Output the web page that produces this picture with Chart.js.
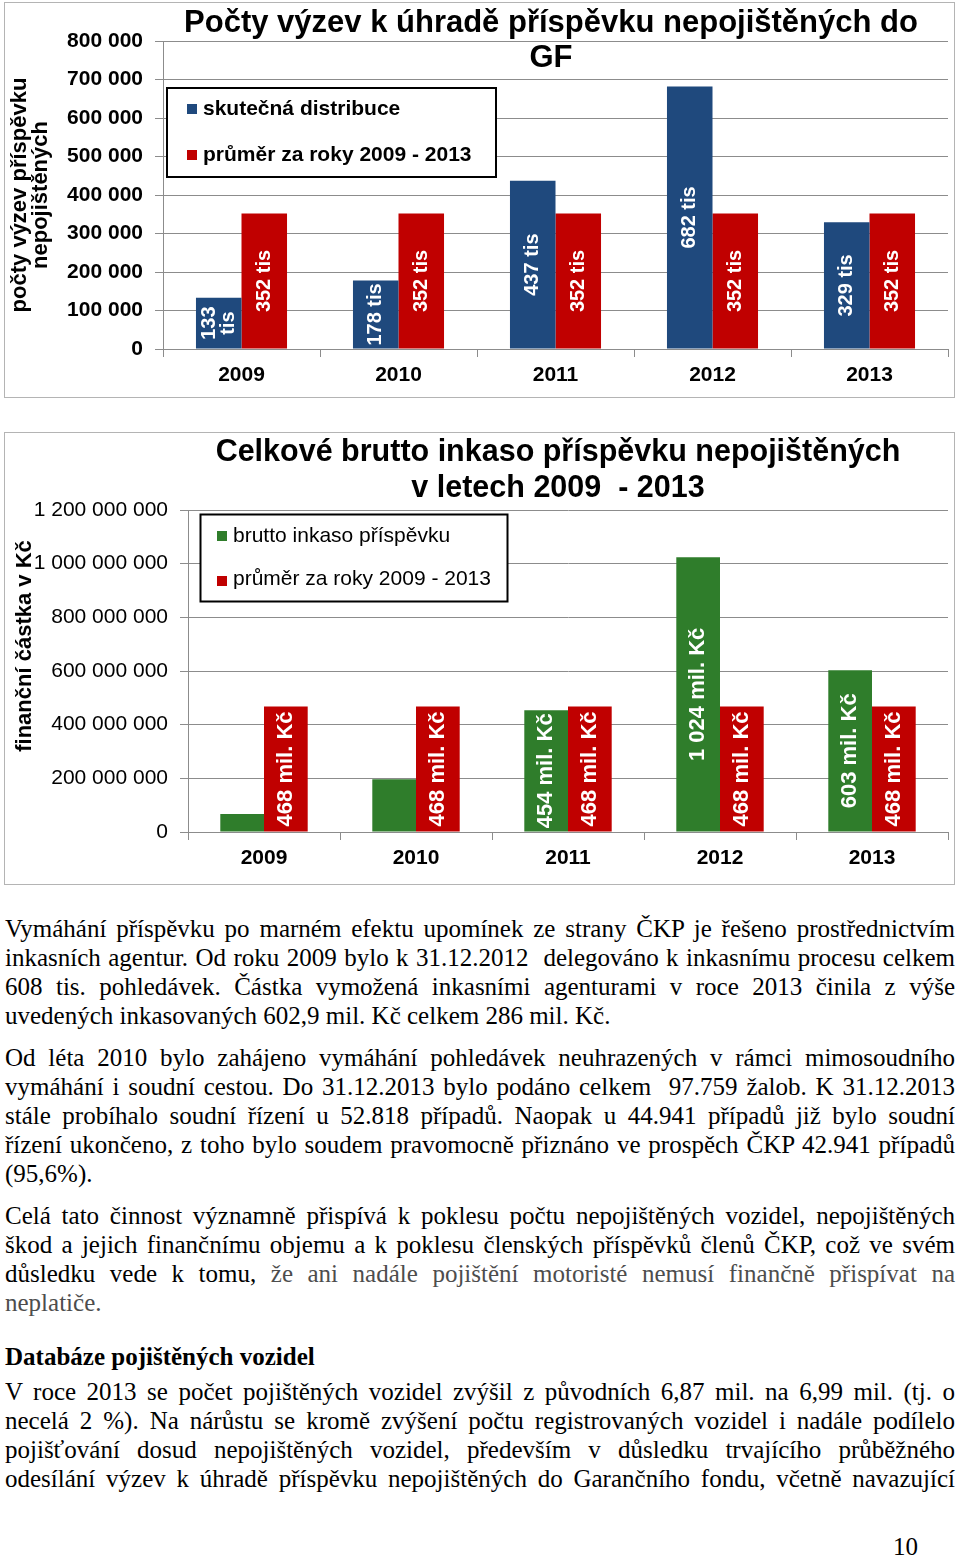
<!DOCTYPE html>
<html lang="cs">
<head>
<meta charset="utf-8">
<script src="https://cdn.jsdelivr.net/npm/chart.js@4/dist/chart.umd.min.js"></script>
<style>
  body { margin: 0; background: #fff; width: 960px; height: 1557px; position: relative; overflow: hidden; }
  .box { position: absolute; left: 4px; width: 949px; border: 1px solid #b4b4b4; background: #fff; }
  #box1 { top: 2px; height: 394px; }
  #box2 { top: 432px; height: 451px; }
  .box canvas { display: block; }
  .txt { position: absolute; left: 5px; width: 950px; font-family: 'Liberation Serif', 'Times New Roman', serif; font-size: 25px; line-height: 29px; color: #000; }
  .txt div { text-align: justify; text-align-last: justify; white-space: nowrap; }
  .txt div.last { text-align-last: left; }
  .gray { color: #4d4d4d; }
  .head { font-weight: bold; }
  #pagenum { position: absolute; left: 893px; top: 1532px; font-family: 'Liberation Serif', serif; font-size: 25px; line-height: 29px; }
</style>
</head>
<body>
<div class="box" id="box1"><canvas id="calls"></canvas></div>
<div class="box" id="box2"><canvas id="gross"></canvas></div>

<div class="txt" style="top:914px">
  <div>Vymáhání příspěvku po marném efektu upomínek ze strany ČKP je řešeno prostřednictvím</div>
  <div>inkasních agentur. Od roku 2009 bylo k 31.12.2012&nbsp; delegováno k inkasnímu procesu celkem</div>
  <div>608 tis. pohledávek. Částka vymožená inkasními agenturami v roce 2013 činila z výše</div>
  <div class="last">uvedených inkasovaných 602,9 mil. Kč celkem 286 mil. Kč.</div>
</div>
<div class="txt" style="top:1043px">
  <div>Od léta 2010 bylo zahájeno vymáhání pohledávek neuhrazených v rámci mimosoudního</div>
  <div>vymáhání i soudní cestou. Do 31.12.2013 bylo podáno celkem&nbsp; 97.759 žalob. K 31.12.2013</div>
  <div>stále probíhalo soudní řízení u 52.818 případů. Naopak u 44.941 případů již bylo soudní</div>
  <div>řízení ukončeno, z toho bylo soudem pravomocně přiznáno ve prospěch ČKP 42.941 případů</div>
  <div class="last">(95,6%).</div>
</div>
<div class="txt" style="top:1201px">
  <div>Celá tato činnost významně přispívá k poklesu počtu nepojištěných vozidel, nepojištěných</div>
  <div>škod a jejich finančnímu objemu a k poklesu členských příspěvků členů ČKP, což ve svém</div>
  <div>důsledku vede k tomu, <span class="gray">že ani nadále pojištění motoristé nemusí finančně přispívat na</span></div>
  <div class="last gray">neplatiče.</div>
</div>
<div class="txt head" style="top:1342px">
  <div class="last">Databáze pojištěných vozidel</div>
</div>
<div class="txt" style="top:1377px">
  <div>V roce 2013 se počet pojištěných vozidel zvýšil z původních 6,87 mil. na 6,99 mil. (tj. o</div>
  <div>necelá 2 %). Na nárůstu se kromě zvýšení počtu registrovaných vozidel i nadále podílelo</div>
  <div>pojišťování dosud nepojištěných vozidel, především v důsledku trvajícího průběžného</div>
  <div>odesílání výzev k úhradě příspěvku nepojištěných do Garančního fondu, včetně navazující</div>
</div>
<div id="pagenum">10</div>

<script>
const years = ['2009', '2010', '2011', '2012', '2013'];

// graf 1 - pocty vyzev
const callsActual = [133000, 178000, 437000, 682000, 329000];
const callsAverage = [352000, 352000, 352000, 352000, 352000];
const callsActualLabels = ['133 tis', '178 tis', '437 tis', '682 tis', '329 tis'];
const callsAverageLabels = ['352 tis', '352 tis', '352 tis', '352 tis', '352 tis'];
const callsTicks = [0, 100000, 200000, 300000, 400000, 500000, 600000, 700000, 800000];

// graf 2 - brutto inkaso
const grossIncome = [67000000, 197000000, 454000000, 1024000000, 603000000];
const grossAverage = [468000000, 468000000, 468000000, 468000000, 468000000];
const grossIncomeLabels = ['', '', '454 mil. Kč', '1 024 mil. Kč', '603 mil. Kč'];
const grossAverageLabels = ['468 mil. Kč', '468 mil. Kč', '468 mil. Kč', '468 mil. Kč', '468 mil. Kč'];
const grossTicks = [0, 200000000, 400000000, 600000000, 800000000, 1000000000, 1200000000];

const FONT = "'Liberation Sans', Arial, sans-serif";
const GRID = '#8c8c8c';

function fmt(value) {
  return String(value).replace(/\B(?=(\d{3})+(?!\d))/g, ' ');
}

function drawBarLabels(chart, opts) {
  const ctx = chart.ctx;
  const area = chart.chartArea;
  ctx.save();
  ctx.beginPath();
  ctx.rect(area.left, area.top, area.right - area.left, area.bottom - area.top);
  ctx.clip();
  ctx.font = opts.labelFont;
  ctx.fillStyle = '#fff';
  ctx.textAlign = 'center';
  ctx.textBaseline = 'middle';
  chart.data.datasets.forEach((ds, i) => {
    const meta = chart.getDatasetMeta(i);
    meta.data.forEach((bar, j) => {
      const text = ds.barLabels[j];
      if (!text) return;
      const p = bar.getProps(['x', 'y', 'base'], true);
      let lines = [text];
      if (ctx.measureText(text).width > p.base - p.y - 4) {
        lines = text.split(' ');
      }
      ctx.save();
      ctx.translate(p.x, (p.y + p.base) / 2);
      ctx.rotate(-Math.PI / 2);
      lines.forEach((ln, k) => {
        ctx.fillText(ln, 0, (k - (lines.length - 1) / 2) * opts.labelLine);
      });
      ctx.restore();
    });
  });
  ctx.restore();
}

function drawHeadings(chart, opts) {
  const ctx = chart.ctx;
  ctx.save();
  ctx.fillStyle = '#000';
  ctx.textAlign = 'center';
  ctx.textBaseline = 'middle';
  ctx.font = opts.titleFont;
  opts.title.forEach((ln, k) => ctx.fillText(ln, opts.titleX, opts.titleY[k]));

  ctx.font = opts.axisFont;
  opts.axisTitle.forEach((ln, k) => {
    ctx.save();
    ctx.translate(opts.axisTitleX[k], opts.axisTitleY);
    ctx.rotate(-Math.PI / 2);
    ctx.fillText(ln, 0, 0);
    ctx.restore();
  });
  ctx.restore();
}

function drawLegend(chart, opts) {
  const lg = opts.legend;
  const ctx = chart.ctx;
  ctx.save();
  ctx.fillStyle = '#fff';
  ctx.fillRect(lg.x, lg.y, lg.w, lg.h);
  ctx.lineWidth = 2;
  ctx.strokeStyle = '#000';
  ctx.strokeRect(lg.x, lg.y, lg.w, lg.h);
  ctx.font = lg.font;
  ctx.textAlign = 'left';
  ctx.textBaseline = 'middle';
  chart.data.datasets.forEach((ds, i) => {
    ctx.fillStyle = ds.backgroundColor;
    ctx.fillRect(lg.markX, lg.markY[i] - 5, 10, 10);
    ctx.fillStyle = '#000';
    ctx.fillText(ds.label, lg.textX, lg.rowY[i]);
  });
  ctx.restore();
}

const sheetPlugin = {
  id: 'sheet',
  afterDatasetsDraw(chart, args, opts) {
    drawBarLabels(chart, opts);
  },
  afterDraw(chart, args, opts) {
    drawHeadings(chart, opts);
    drawLegend(chart, opts);
  },
};

function createBarChart(canvas, setup) {
  const config = {
    type: 'bar',
    data: {
      labels: years,
      datasets: setup.datasets,
    },
    plugins: [sheetPlugin],
    options: {
      responsive: true,
      maintainAspectRatio: false,
      animation: false,
      devicePixelRatio: 1,
      layout: { padding: { top: setup.top, right: 6, left: 0, bottom: 0 } },
      datasets: {
        bar: { categoryPercentage: setup.catPct, barPercentage: 1, borderWidth: 0 },
      },
      plugins: {
        legend: { display: false },
        title: { display: false },
        tooltip: { enabled: false },
        sheet: setup.sheet,
      },
      scales: {
        x: {
          afterFit: (scale) => { scale.height = setup.xHeight; },
          grid: { drawOnChartArea: false, color: GRID, tickLength: 8, offset: true },
          border: { color: GRID },
          ticks: { color: '#000', padding: 6, font: { family: FONT, size: 21, weight: 'bold' } },
        },
        y: {
          min: 0,
          max: setup.ticks[setup.ticks.length - 1],
          afterFit: (scale) => { scale.width = setup.yWidth; },
          afterBuildTicks: (scale) => {
            scale.ticks = setup.ticks.map((v) => ({ value: v }));
          },
          grid: { color: GRID, tickLength: 8 },
          border: { color: GRID },
          ticks: {
            color: '#000',
            padding: 12,
            font: { family: FONT, size: 21, weight: setup.tickWeight },
            callback: (value) => fmt(value),
          },
        },
      },
    },
  };
  return new Chart(canvas.getContext('2d'), config);
}

createBarChart(document.getElementById('calls'), {
  top: 38,
  xHeight: 48,
  yWidth: 158,
  catPct: 0.58,
  ticks: callsTicks,
  tickWeight: 'bold',
  datasets: [
    { label: 'skutečná distribuce', data: callsActual, barLabels: callsActualLabels, backgroundColor: '#1f497d' },
    { label: 'průměr za roky 2009 - 2013', data: callsAverage, barLabels: callsAverageLabels, backgroundColor: '#c00000' },
  ],
  sheet: {
    labelFont: 'bold 20px ' + FONT,
    labelLine: 19,
    titleFont: 'bold 31px ' + FONT,
    title: ['Počty výzev k úhradě příspěvku nepojištěných do', 'GF'],
    titleX: 546,
    titleY: [20, 55],
    axisFont: 'bold 22px ' + FONT,
    axisTitle: ['počty výzev příspěvku', 'nepojištěných'],
    axisTitleX: [15, 36],
    axisTitleY: 192,
    legend: {
      x: 162, y: 85, w: 329, h: 89,
      font: 'bold 21px ' + FONT,
      markX: 182, markY: [106, 152],
      textX: 198, rowY: [106, 152],
    },
  },
});

createBarChart(document.getElementById('gross'), {
  top: 77,
  xHeight: 52,
  yWidth: 183,
  catPct: 0.575,
  ticks: grossTicks,
  tickWeight: 'normal',
  datasets: [
    { label: 'brutto inkaso příspěvku', data: grossIncome, barLabels: grossIncomeLabels, backgroundColor: '#2f7d2b' },
    { label: 'průměr za roky 2009 - 2013', data: grossAverage, barLabels: grossAverageLabels, backgroundColor: '#c00000' },
  ],
  sheet: {
    labelFont: 'bold 22px ' + FONT,
    labelLine: 21,
    titleFont: 'bold 30.5px ' + FONT,
    title: ['Celkové brutto inkaso příspěvku nepojištěných', 'v letech 2009  - 2013'],
    titleX: 553,
    titleY: [20, 56],
    axisFont: 'bold 22px ' + FONT,
    axisTitle: ['finanční částka v Kč'],
    axisTitleX: [20],
    axisTitleY: 213,
    legend: {
      x: 195.5, y: 81.5, w: 307, h: 87,
      font: 'normal 21px ' + FONT,
      markX: 212, markY: [103, 148],
      textX: 228, rowY: [103, 146],
    },
  },
});
</script>
</body>
</html>
